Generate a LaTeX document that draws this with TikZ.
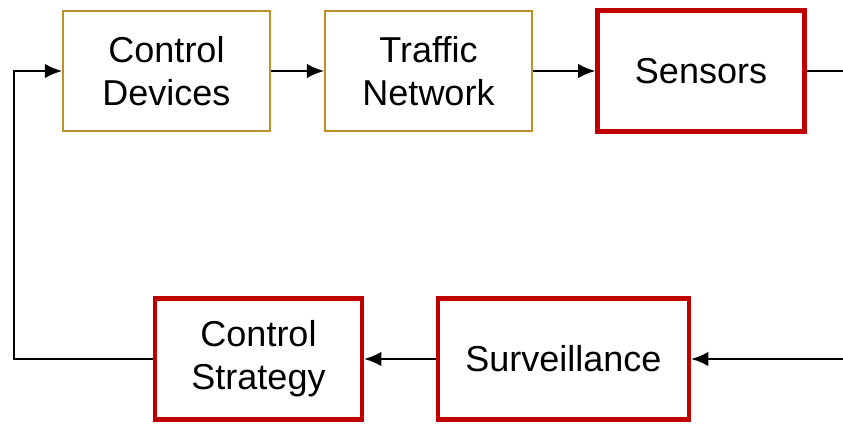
\documentclass[tikz,border=0pt]{standalone}
\usepackage{fontspec}
\setmainfont{Liberation Sans}
\usepackage{tikz}
\usetikzlibrary{arrows.meta}
\definecolor{boxgold}{RGB}{191,144,40}
\definecolor{boxred}{RGB}{192,0,0}

\begin{document}
\begin{tikzpicture}[
  x=0.75pt,y=0.75pt,
  line cap=butt,
  line join=miter,
  >={Latex[length=13pt,width=11pt]},
  blk/.style={draw,fill=white,align=center,inner sep=0pt,
    font=\fontsize{27}{32}\selectfont},
  plain/.style={blk,draw=boxgold,line width=1.5pt,
    minimum width=155pt,minimum height=90pt},
  key/.style={blk,draw=boxred,line width=3.4pt,
    minimum width=155pt,minimum height=91pt},
  link/.style={draw=black,line width=1.8pt}
]
\useasboundingbox (0,0) rectangle (843,424);

% top row
\node[plain] (dev)  at (166.5,353) {Control\\Devices};
\node[plain] (net)  at (428.5,353) {Traffic\\Network};
\node[key]   (sens) at (701,353)   {Sensors};

% bottom row
\node[key] (strat) at (258.5,65) {Control\\Strategy};
\node[key,minimum width=188pt] (surv) at (563.5,65) {Surveillance};

% loose ends at the right border and the left turn
\coordinate (rtop) at (843,353);
\coordinate (rbot) at (843,65);
\coordinate (lturn) at (14,200);

\draw[link,->] (dev) -- (net);
\draw[link,->] (net) -- (sens);
\draw[link] (sens) -- (rtop);
\draw[link,->] (rbot) -- (surv);
\draw[link,->] (surv) -- (strat);
\draw[link,->] (strat.west) -| (lturn) |- (dev.west);

\end{tikzpicture}
\end{document}
